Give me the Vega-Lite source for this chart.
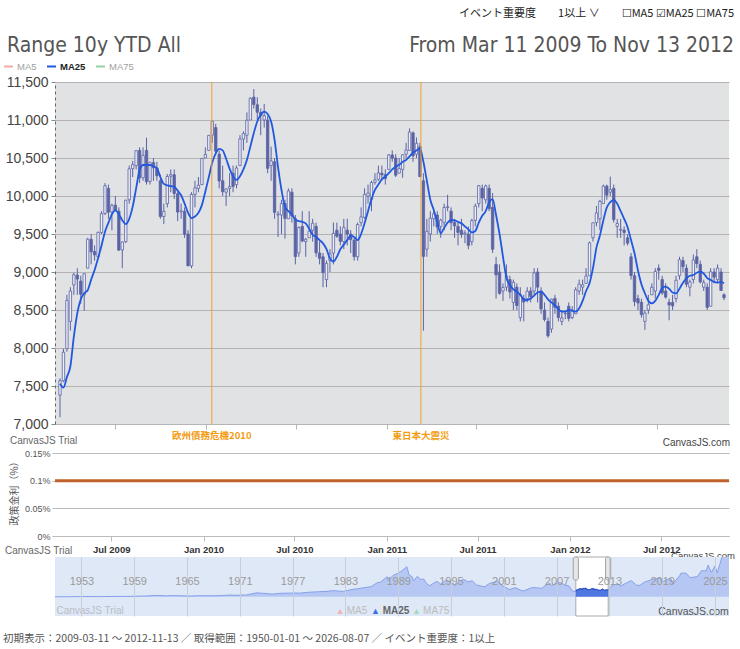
{
  "$schema": "https://vega.github.io/schema/vega-lite/v6.json",
  "padding": {"left": 3, "top": 8, "right": 2, "bottom": 0},
  "config": {
    "font": "Liberation Sans",
    "view": {"stroke": null},
    "axis": {"labelFont": "Liberation Sans", "titleFont": "Noto Sans CJK JP", "labelOverlap": false}
  },
  "datasets": {
    "weekly": [
      {"d":"2009-03-11","o":7380,"h":7600,"l":7090,"c":7570,"m":7530},
      {"d":"2009-03-18","o":7570,"h":7990,"l":7550,"c":7945,"m":7480},
      {"d":"2009-03-25","o":7990,"h":8700,"l":7950,"c":8626,"m":7620},
      {"d":"2009-04-01","o":8350,"h":8800,"l":8230,"c":8750,"m":7760},
      {"d":"2009-04-08","o":8830,"h":8990,"l":8700,"c":8964,"m":8150},
      {"d":"2009-04-15","o":8960,"h":9050,"l":8700,"c":8907,"m":8460},
      {"d":"2009-04-22","o":8880,"h":8950,"l":8580,"c":8707,"m":8640},
      {"d":"2009-04-29","o":8700,"h":8980,"l":8490,"c":8977,"m":8720},
      {"d":"2009-05-06","o":9050,"h":9450,"l":9050,"c":9432,"m":8760},
      {"d":"2009-05-13","o":9430,"h":9500,"l":9100,"c":9265,"m":8900},
      {"d":"2009-05-20","o":9270,"h":9350,"l":9150,"c":9225,"m":9026},
      {"d":"2009-05-27","o":9200,"h":9530,"l":9200,"c":9522,"m":9180},
      {"d":"2009-06-03","o":9520,"h":9800,"l":9500,"c":9768,"m":9350},
      {"d":"2009-06-10","o":9770,"h":10170,"l":9750,"c":10135,"m":9530},
      {"d":"2009-06-17","o":10100,"h":10150,"l":9700,"c":9786,"m":9650},
      {"d":"2009-06-24","o":9790,"h":9900,"l":9550,"c":9877,"m":9760},
      {"d":"2009-07-01","o":9880,"h":10000,"l":9800,"c":9816,"m":9810},
      {"d":"2009-07-08","o":9800,"h":9850,"l":9280,"c":9288,"m":9760},
      {"d":"2009-07-15","o":9290,"h":9400,"l":9050,"c":9395,"m":9680},
      {"d":"2009-07-22","o":9400,"h":9950,"l":9380,"c":9945,"m":9630},
      {"d":"2009-07-29","o":9950,"h":10400,"l":9900,"c":10357,"m":9700},
      {"d":"2009-08-05","o":10360,"h":10460,"l":10250,"c":10412,"m":9860},
      {"d":"2009-08-12","o":10400,"h":10600,"l":10350,"c":10597,"m":10100},
      {"d":"2009-08-19","o":10600,"h":10640,"l":10170,"c":10238,"m":10340},
      {"d":"2009-08-26","o":10240,"h":10640,"l":10200,"c":10534,"m":10408},
      {"d":"2009-09-02","o":10600,"h":10767,"l":10150,"c":10187,"m":10410},
      {"d":"2009-09-09","o":10190,"h":10450,"l":10150,"c":10444,"m":10408},
      {"d":"2009-09-16","o":10440,"h":10500,"l":10200,"c":10370,"m":10390},
      {"d":"2009-09-23","o":10370,"h":10450,"l":10200,"c":10265,"m":10364},
      {"d":"2009-09-30","o":10200,"h":10280,"l":9700,"c":9731,"m":10250},
      {"d":"2009-10-07","o":9730,"h":9900,"l":9630,"c":9799,"m":10160},
      {"d":"2009-10-14","o":9900,"h":10290,"l":9850,"c":10257,"m":10140},
      {"d":"2009-10-21","o":10260,"h":10350,"l":10050,"c":10282,"m":10130},
      {"d":"2009-10-28","o":10280,"h":10350,"l":9960,"c":10034,"m":10123},
      {"d":"2009-11-04","o":10030,"h":10050,"l":9670,"c":9789,"m":10070},
      {"d":"2009-11-11","o":9790,"h":9900,"l":9700,"c":9804,"m":10010},
      {"d":"2009-11-18","o":9800,"h":9850,"l":9450,"c":9497,"m":9900},
      {"d":"2009-11-25","o":9500,"h":9550,"l":9080,"c":9081,"m":9780},
      {"d":"2009-12-02","o":9080,"h":10050,"l":9050,"c":10022,"m":9710},
      {"d":"2009-12-09","o":10020,"h":10200,"l":9850,"c":10107,"m":9730},
      {"d":"2009-12-16","o":10100,"h":10250,"l":10050,"c":10142,"m":9780},
      {"d":"2009-12-23","o":10150,"h":10500,"l":10150,"c":10494,"m":9880},
      {"d":"2009-12-30","o":10500,"h":10640,"l":10500,"c":10546,"m":10060},
      {"d":"2010-01-06","o":10600,"h":10800,"l":10600,"c":10798,"m":10250},
      {"d":"2010-01-13","o":10800,"h":10990,"l":10700,"c":10982,"m":10440},
      {"d":"2010-01-20","o":10900,"h":10950,"l":10550,"c":10590,"m":10560},
      {"d":"2010-01-27","o":10550,"h":10600,"l":10100,"c":10198,"m":10620},
      {"d":"2010-02-03","o":10200,"h":10400,"l":10000,"c":10057,"m":10600},
      {"d":"2010-02-10","o":10050,"h":10100,"l":9870,"c":10092,"m":10490},
      {"d":"2010-02-17","o":10100,"h":10300,"l":10000,"c":10123,"m":10360},
      {"d":"2010-02-24","o":10300,"h":10400,"l":10050,"c":10126,"m":10260},
      {"d":"2010-03-03","o":10150,"h":10400,"l":10100,"c":10368,"m":10211},
      {"d":"2010-03-10","o":10400,"h":10800,"l":10400,"c":10751,"m":10260},
      {"d":"2010-03-17","o":10750,"h":10850,"l":10600,"c":10824,"m":10350},
      {"d":"2010-03-24","o":10800,"h":11100,"l":10700,"c":10996,"m":10474},
      {"d":"2010-03-31","o":11000,"h":11300,"l":11000,"c":11286,"m":10650},
      {"d":"2010-04-07","o":11300,"h":11408,"l":11150,"c":11204,"m":10830},
      {"d":"2010-04-14","o":11200,"h":11300,"l":11000,"c":11102,"m":10980},
      {"d":"2010-04-21","o":11100,"h":11150,"l":10800,"c":11057,"m":11070},
      {"d":"2010-04-28","o":11000,"h":11212,"l":10900,"c":11057,"m":11110},
      {"d":"2010-05-05","o":11000,"h":11050,"l":10300,"c":10364,"m":11080},
      {"d":"2010-05-12","o":10400,"h":10650,"l":10200,"c":10462,"m":10980},
      {"d":"2010-05-19","o":10450,"h":10500,"l":9700,"c":9784,"m":10740},
      {"d":"2010-05-26","o":9750,"h":9800,"l":9460,"c":9762,"m":10380},
      {"d":"2010-06-02","o":9750,"h":9950,"l":9500,"c":9901,"m":10079},
      {"d":"2010-06-09","o":9900,"h":9950,"l":9440,"c":9705,"m":9860},
      {"d":"2010-06-16","o":9700,"h":10100,"l":9700,"c":10067,"m":9800},
      {"d":"2010-06-23","o":10050,"h":10100,"l":9650,"c":9737,"m":9760},
      {"d":"2010-06-30","o":9700,"h":9750,"l":9100,"c":9203,"m":9690},
      {"d":"2010-07-07","o":9250,"h":9600,"l":9200,"c":9585,"m":9670},
      {"d":"2010-07-14","o":9600,"h":9800,"l":9390,"c":9408,"m":9660},
      {"d":"2010-07-21","o":9400,"h":9450,"l":9200,"c":9431,"m":9640},
      {"d":"2010-07-28","o":9450,"h":9800,"l":9450,"c":9537,"m":9570},
      {"d":"2010-08-04","o":9550,"h":9700,"l":9400,"c":9642,"m":9490},
      {"d":"2010-08-11","o":9600,"h":9650,"l":9200,"c":9253,"m":9460},
      {"d":"2010-08-18","o":9250,"h":9400,"l":9100,"c":9179,"m":9420},
      {"d":"2010-08-25","o":9200,"h":9250,"l":8800,"c":8991,"m":9377},
      {"d":"2010-09-01","o":8900,"h":9150,"l":8800,"c":9114,"m":9300},
      {"d":"2010-09-08","o":9150,"h":9300,"l":9000,"c":9239,"m":9180},
      {"d":"2010-09-15","o":9250,"h":9650,"l":9100,"c":9509,"m":9136},
      {"d":"2010-09-22","o":9550,"h":9650,"l":9450,"c":9471,"m":9200},
      {"d":"2010-09-29","o":9500,"h":9600,"l":9350,"c":9404,"m":9300},
      {"d":"2010-10-06","o":9400,"h":9700,"l":9300,"c":9588,"m":9360},
      {"d":"2010-10-13","o":9550,"h":9700,"l":9350,"c":9500,"m":9420},
      {"d":"2010-10-20","o":9500,"h":9550,"l":9250,"c":9426,"m":9480},
      {"d":"2010-10-27","o":9420,"h":9450,"l":9150,"c":9202,"m":9460},
      {"d":"2010-11-03","o":9200,"h":9650,"l":9150,"c":9625,"m":9421},
      {"d":"2010-11-10","o":9650,"h":9850,"l":9600,"c":9725,"m":9500},
      {"d":"2010-11-17","o":9720,"h":10100,"l":9700,"c":10022,"m":9640},
      {"d":"2010-11-24","o":10000,"h":10150,"l":9900,"c":10039,"m":9800},
      {"d":"2010-12-01","o":9950,"h":10200,"l":9800,"c":10178,"m":9960},
      {"d":"2010-12-08","o":10180,"h":10300,"l":10150,"c":10212,"m":10080},
      {"d":"2010-12-15","o":10220,"h":10400,"l":10200,"c":10303,"m":10150},
      {"d":"2010-12-22","o":10300,"h":10400,"l":10200,"c":10279,"m":10220},
      {"d":"2010-12-29","o":10280,"h":10350,"l":10150,"c":10229,"m":10255},
      {"d":"2011-01-05","o":10350,"h":10550,"l":10350,"c":10541,"m":10300},
      {"d":"2011-01-12","o":10540,"h":10600,"l":10450,"c":10499,"m":10350},
      {"d":"2011-01-19","o":10500,"h":10550,"l":10250,"c":10274,"m":10386},
      {"d":"2011-01-26","o":10300,"h":10500,"l":10300,"c":10360,"m":10410},
      {"d":"2011-02-02","o":10350,"h":10550,"l":10240,"c":10543,"m":10450},
      {"d":"2011-02-09","o":10550,"h":10700,"l":10500,"c":10605,"m":10474},
      {"d":"2011-02-16","o":10600,"h":10890,"l":10600,"c":10842,"m":10520},
      {"d":"2011-02-23","o":10830,"h":10850,"l":10450,"c":10527,"m":10570},
      {"d":"2011-03-02","o":10550,"h":10770,"l":10500,"c":10693,"m":10600},
      {"d":"2011-03-09","o":10650,"h":10700,"l":10250,"c":10254,"m":10625},
      {"d":"2011-03-16","o":10200,"h":10300,"l":8227,"c":9206,"m":10450},
      {"d":"2011-03-23","o":9300,"h":9700,"l":9200,"c":9536,"m":10200},
      {"d":"2011-03-30","o":9500,"h":9800,"l":9400,"c":9708,"m":9950},
      {"d":"2011-04-06","o":9700,"h":9800,"l":9600,"c":9768,"m":9816},
      {"d":"2011-04-13","o":9750,"h":9800,"l":9500,"c":9591,"m":9650},
      {"d":"2011-04-20","o":9600,"h":9700,"l":9450,"c":9682,"m":9509},
      {"d":"2011-04-27","o":9650,"h":9900,"l":9550,"c":9849,"m":9580},
      {"d":"2011-05-04","o":9850,"h":10017,"l":9800,"c":9859,"m":9650},
      {"d":"2011-05-11","o":9800,"h":9850,"l":9550,"c":9648,"m":9684},
      {"d":"2011-05-18","o":9650,"h":9700,"l":9450,"c":9607,"m":9680},
      {"d":"2011-05-25","o":9600,"h":9650,"l":9350,"c":9521,"m":9660},
      {"d":"2011-06-01","o":9550,"h":9700,"l":9450,"c":9492,"m":9640},
      {"d":"2011-06-08","o":9500,"h":9550,"l":9380,"c":9514,"m":9600},
      {"d":"2011-06-15","o":9500,"h":9600,"l":9300,"c":9351,"m":9560},
      {"d":"2011-06-22","o":9400,"h":9700,"l":9350,"c":9678,"m":9520},
      {"d":"2011-06-29","o":9680,"h":9900,"l":9600,"c":9868,"m":9540},
      {"d":"2011-07-06","o":9900,"h":10140,"l":9850,"c":10137,"m":9650},
      {"d":"2011-07-13","o":10100,"h":10150,"l":9800,"c":9974,"m":9740},
      {"d":"2011-07-20","o":9950,"h":10150,"l":9900,"c":10132,"m":9800},
      {"d":"2011-07-27","o":10100,"h":10150,"l":9800,"c":9833,"m":9920},
      {"d":"2011-08-03","o":9850,"h":10040,"l":9250,"c":9299,"m":9960},
      {"d":"2011-08-10","o":9100,"h":9200,"l":8650,"c":8963,"m":9750},
      {"d":"2011-08-17","o":9000,"h":9100,"l":8700,"c":8719,"m":9500},
      {"d":"2011-08-24","o":8750,"h":8850,"l":8620,"c":8797,"m":9200},
      {"d":"2011-08-31","o":8800,"h":9100,"l":8750,"c":8950,"m":8920},
      {"d":"2011-09-07","o":8900,"h":8950,"l":8650,"c":8737,"m":8830},
      {"d":"2011-09-14","o":8600,"h":8900,"l":8500,"c":8864,"m":8770},
      {"d":"2011-09-21","o":8800,"h":8850,"l":8500,"c":8560,"m":8740},
      {"d":"2011-09-28","o":8400,"h":8800,"l":8350,"c":8700,"m":8700},
      {"d":"2011-10-05","o":8650,"h":8700,"l":8350,"c":8605,"m":8640},
      {"d":"2011-10-12","o":8650,"h":8800,"l":8600,"c":8747,"m":8630},
      {"d":"2011-10-19","o":8750,"h":8800,"l":8600,"c":8678,"m":8650},
      {"d":"2011-10-26","o":8750,"h":9050,"l":8700,"c":8988,"m":8690},
      {"d":"2011-11-02","o":9000,"h":9050,"l":8600,"c":8801,"m":8730},
      {"d":"2011-11-09","o":8750,"h":8800,"l":8450,"c":8514,"m":8741},
      {"d":"2011-11-16","o":8500,"h":8600,"l":8350,"c":8374,"m":8700},
      {"d":"2011-11-23","o":8350,"h":8400,"l":8135,"c":8160,"m":8640},
      {"d":"2011-11-30","o":8250,"h":8650,"l":8200,"c":8643,"m":8600},
      {"d":"2011-12-07","o":8650,"h":8700,"l":8450,"c":8536,"m":8560},
      {"d":"2011-12-14","o":8550,"h":8600,"l":8350,"c":8401,"m":8510},
      {"d":"2011-12-21","o":8350,"h":8500,"l":8300,"c":8395,"m":8478},
      {"d":"2011-12-28","o":8450,"h":8480,"l":8380,"c":8455,"m":8480},
      {"d":"2012-01-04","o":8550,"h":8600,"l":8350,"c":8390,"m":8500},
      {"d":"2012-01-11","o":8400,"h":8550,"l":8380,"c":8500,"m":8490},
      {"d":"2012-01-18","o":8450,"h":8800,"l":8450,"c":8766,"m":8480},
      {"d":"2012-01-25","o":8750,"h":8900,"l":8700,"c":8841,"m":8520},
      {"d":"2012-02-01","o":8800,"h":8900,"l":8700,"c":8831,"m":8620},
      {"d":"2012-02-08","o":8850,"h":9050,"l":8850,"c":8947,"m":8750},
      {"d":"2012-02-15","o":8950,"h":9400,"l":8950,"c":9384,"m":8851},
      {"d":"2012-02-22","o":9450,"h":9650,"l":9400,"c":9647,"m":9050},
      {"d":"2012-02-29","o":9650,"h":9870,"l":9600,"c":9777,"m":9320},
      {"d":"2012-03-07","o":9700,"h":9950,"l":9550,"c":9929,"m":9480},
      {"d":"2012-03-14","o":9900,"h":10150,"l":9900,"c":10130,"m":9680},
      {"d":"2012-03-21","o":10130,"h":10150,"l":9950,"c":10012,"m":9850},
      {"d":"2012-03-28","o":10050,"h":10255,"l":10000,"c":10084,"m":9920},
      {"d":"2012-04-04","o":10100,"h":10150,"l":9650,"c":9689,"m":9950},
      {"d":"2012-04-11","o":9600,"h":9700,"l":9450,"c":9638,"m":9900},
      {"d":"2012-04-18","o":9550,"h":9700,"l":9450,"c":9562,"m":9800},
      {"d":"2012-04-25","o":9550,"h":9600,"l":9350,"c":9520,"m":9700},
      {"d":"2012-05-02","o":9450,"h":9500,"l":9350,"c":9380,"m":9590},
      {"d":"2012-05-09","o":9200,"h":9250,"l":8900,"c":8953,"m":9420},
      {"d":"2012-05-16","o":8950,"h":9000,"l":8550,"c":8611,"m":9246},
      {"d":"2012-05-23","o":8650,"h":8700,"l":8500,"c":8593,"m":9020},
      {"d":"2012-05-30","o":8600,"h":8650,"l":8400,"c":8440,"m":8840},
      {"d":"2012-06-06","o":8350,"h":8500,"l":8238,"c":8459,"m":8720},
      {"d":"2012-06-13","o":8500,"h":8700,"l":8450,"c":8569,"m":8620},
      {"d":"2012-06-20","o":8700,"h":8850,"l":8700,"c":8798,"m":8588},
      {"d":"2012-06-27","o":8750,"h":9050,"l":8650,"c":9007,"m":8620},
      {"d":"2012-07-04","o":9050,"h":9100,"l":8900,"c":9021,"m":8700},
      {"d":"2012-07-11","o":8900,"h":8950,"l":8700,"c":8724,"m":8790},
      {"d":"2012-07-18","o":8750,"h":8850,"l":8650,"c":8670,"m":8807},
      {"d":"2012-07-25","o":8600,"h":8650,"l":8365,"c":8567,"m":8780},
      {"d":"2012-08-01","o":8600,"h":8700,"l":8500,"c":8555,"m":8730},
      {"d":"2012-08-08","o":8650,"h":8950,"l":8600,"c":8891,"m":8719},
      {"d":"2012-08-15","o":8950,"h":9200,"l":8900,"c":9162,"m":8780},
      {"d":"2012-08-22","o":9150,"h":9200,"l":9000,"c":9070,"m":8860},
      {"d":"2012-08-29","o":9050,"h":9100,"l":8800,"c":8839,"m":8917},
      {"d":"2012-09-05","o":8800,"h":8900,"l":8680,"c":8871,"m":8950},
      {"d":"2012-09-12","o":8900,"h":9230,"l":8850,"c":9159,"m":8960},
      {"d":"2012-09-19","o":9200,"h":9300,"l":9050,"c":9110,"m":8990},
      {"d":"2012-09-26","o":9100,"h":9150,"l":8850,"c":8870,"m":9004},
      {"d":"2012-10-03","o":8800,"h":8900,"l":8750,"c":8863,"m":8980},
      {"d":"2012-10-10","o":8800,"h":8850,"l":8500,"c":8534,"m":8920},
      {"d":"2012-10-17","o":8550,"h":9050,"l":8550,"c":9002,"m":8895},
      {"d":"2012-10-24","o":9000,"h":9050,"l":8850,"c":8933,"m":8870},
      {"d":"2012-10-31","o":8900,"h":9100,"l":8850,"c":9051,"m":8860},
      {"d":"2012-11-07","o":9000,"h":9050,"l":8750,"c":8757,"m":8870},
      {"d":"2012-11-13","o":8700,"h":8720,"l":8630,"c":8662,"m":8850}
    ],
    "events": [
      {"d": "2010-01-12", "name": "欧州債務危機2010"},
      {"d": "2011-03-11", "name": "東日本大震災"}
    ],
    "rate": [
      {"d": "2009-03-11", "r": 0.1},
      {"d": "2012-11-13", "r": 0.1}
    ],
    "nikkei": [
      {"d":"1950-01-01","v":100},{"d":"1951-06-01","v":150},{"d":"1952-12-01","v":360},
      {"d":"1953-03-01","v":470},{"d":"1954-11-01","v":320},{"d":"1956-06-01","v":480},
      {"d":"1957-06-01","v":530},{"d":"1958-06-01","v":600},{"d":"1959-06-01","v":850},
      {"d":"1960-06-01","v":1150},{"d":"1961-07-01","v":1800},{"d":"1962-10-01","v":1250},
      {"d":"1963-04-01","v":1600},{"d":"1964-06-01","v":1300},{"d":"1965-07-01","v":1050},
      {"d":"1966-06-01","v":1500},{"d":"1967-12-01","v":1300},{"d":"1968-12-01","v":1700},
      {"d":"1969-12-01","v":2350},{"d":"1970-06-01","v":1950},{"d":"1971-06-01","v":2500},
      {"d":"1971-09-01","v":2200},{"d":"1972-12-01","v":5200},{"d":"1973-06-01","v":4800},
      {"d":"1974-10-01","v":3500},{"d":"1975-06-01","v":4500},{"d":"1976-12-01","v":4900},
      {"d":"1977-12-01","v":4900},{"d":"1978-12-01","v":6000},{"d":"1979-12-01","v":6550},
      {"d":"1980-12-01","v":7100},{"d":"1981-08-01","v":8000},{"d":"1982-10-01","v":7000},
      {"d":"1983-12-01","v":9900},{"d":"1984-06-01","v":10300},{"d":"1984-12-01","v":11500},
      {"d":"1985-12-01","v":13100},{"d":"1986-08-01","v":18000},{"d":"1987-01-01","v":19000},
      {"d":"1987-10-01","v":26000},{"d":"1987-11-15","v":21000},{"d":"1988-06-01","v":27700},
      {"d":"1988-12-01","v":30100},{"d":"1989-06-01","v":33500},{"d":"1989-12-29","v":38900},
      {"d":"1990-04-01","v":28000},{"d":"1990-08-01","v":26000},{"d":"1990-10-01","v":20500},
      {"d":"1991-03-01","v":26400},{"d":"1991-08-01","v":22500},{"d":"1991-12-01","v":22900},
      {"d":"1992-04-01","v":17000},{"d":"1992-08-01","v":14300},{"d":"1992-12-01","v":16900},
      {"d":"1993-06-01","v":20000},{"d":"1993-11-01","v":16500},{"d":"1994-06-01","v":21500},
      {"d":"1994-12-01","v":19700},{"d":"1995-07-01","v":14500},{"d":"1995-12-01","v":19900},
      {"d":"1996-06-01","v":22600},{"d":"1996-12-01","v":19400},{"d":"1997-06-01","v":20600},
      {"d":"1997-12-01","v":15300},{"d":"1998-10-01","v":13000},{"d":"1998-12-01","v":13800},
      {"d":"1999-06-01","v":17500},{"d":"1999-12-01","v":18900},{"d":"2000-04-01","v":20800},
      {"d":"2000-12-01","v":13800},{"d":"2001-09-01","v":9500},{"d":"2002-05-01","v":11900},
      {"d":"2002-12-01","v":8600},{"d":"2003-04-01","v":7600},{"d":"2003-12-01","v":10700},
      {"d":"2004-04-01","v":12000},{"d":"2005-05-01","v":11100},{"d":"2005-12-01","v":16100},
      {"d":"2006-04-01","v":17500},{"d":"2006-06-01","v":14500},{"d":"2007-02-01","v":18000},
      {"d":"2007-07-01","v":18200},{"d":"2007-12-01","v":15300},{"d":"2008-06-01","v":14000},
      {"d":"2008-10-27","v":7200},{"d":"2009-03-10","v":7100},{"d":"2009-08-31","v":10500},
      {"d":"2010-04-05","v":11300},{"d":"2010-08-31","v":8800},{"d":"2011-02-17","v":10800},
      {"d":"2011-11-25","v":8200},{"d":"2012-03-27","v":10200},{"d":"2012-06-04","v":8300},
      {"d":"2012-11-13","v":8660},{"d":"2013-05-22","v":15600},{"d":"2013-12-30","v":16300},
      {"d":"2014-04-11","v":14000},{"d":"2014-12-08","v":17900},{"d":"2015-06-24","v":20900},
      {"d":"2016-02-12","v":14900},{"d":"2016-06-24","v":14900},{"d":"2016-12-30","v":19100},
      {"d":"2017-12-29","v":22800},{"d":"2018-10-02","v":24300},{"d":"2018-12-25","v":19200},
      {"d":"2019-12-17","v":24100},{"d":"2020-03-19","v":16600},{"d":"2020-12-30","v":27400},
      {"d":"2021-02-16","v":30500},{"d":"2021-09-14","v":30700},{"d":"2022-03-09","v":24700},
      {"d":"2022-12-30","v":26100},{"d":"2023-06-19","v":33700},{"d":"2023-12-29","v":33500},
      {"d":"2024-03-22","v":40900},{"d":"2024-08-05","v":31500},{"d":"2024-12-30","v":39900},
      {"d":"2025-04-07","v":31100},{"d":"2025-10-31","v":52400},{"d":"2026-08-07","v":54000}
    ]
  },
  "vconcat": [
    {
      "hconcat": [
        {
          "width": 330, "height": 1,
          "data": {"values": []},
          "mark": "text",
          "title": {
            "text": " ", "subtitle": "Range   10y  YTD  All",
            "anchor": "start", "dx": -48, "offset": 5,
            "fontSize": 11, "subtitleFont": "Liberation Sans Narrow, DejaVu Sans Condensed, sans-serif",
            "subtitleFontSize": 21, "subtitleColor": "#555", "subtitlePadding": 16
          }
        },
        {
          "width": 330, "height": 1,
          "data": {"values": []},
          "mark": "text",
          "title": {
            "text": "イベント重要度　　1以上 ∨　　☐MA5 ☑MA25 ☐MA75",
            "subtitle": "From  Mar 11 2009   To  Nov 13 2012",
            "anchor": "end", "dx": 5, "offset": 5,
            "font": "Noto Sans CJK JP", "fontSize": 11, "fontWeight": "normal", "color": "#222",
            "subtitleFont": "Liberation Sans Narrow, DejaVu Sans Condensed, sans-serif",
            "subtitleFontSize": 21, "subtitleColor": "#555", "subtitlePadding": 16
          }
        }
      ],
      "spacing": 14,
      "bounds": "flush"
    },
    {
      "width": 674,
      "height": 342,
      "view": {"fill": "#e1e2e4", "stroke": null},
      "layer": [
        {
          "data": {"name": "weekly"},
          "mark": {"type": "rule", "color": "#5b63a5", "strokeWidth": 1},
          "encoding": {
            "x": {
              "field": "d", "type": "temporal", "title": null,
              "scale": {"type": "utc", "domain": ["2009-03-11", "2012-11-13"]},
              "axis": {
                "labels": false, "ticks": true, "tickSize": 5, "tickColor": "#b5b5b5",
                "domainColor": "#b5b5b5", "grid": false, "tickCount": 12,
                "values": [
                  {"year": 2009, "month": 7, "date": 1, "utc": true},
                  {"year": 2010, "month": 1, "date": 1, "utc": true},
                  {"year": 2010, "month": 7, "date": 1, "utc": true},
                  {"year": 2011, "month": 1, "date": 1, "utc": true},
                  {"year": 2011, "month": 7, "date": 1, "utc": true},
                  {"year": 2012, "month": 1, "date": 1, "utc": true},
                  {"year": 2012, "month": 7, "date": 1, "utc": true}
                ]
              }
            },
            "y": {
              "field": "l", "type": "quantitative", "title": null,
              "scale": {"domain": [7000, 11500], "nice": false, "zero": false},
              "axis": {
                "values": [7000, 7500, 8000, 8500, 9000, 9500, 10000, 10500, 11000, 11500],
                "tickCount": 12, "format": ",d", "labelFontSize": 14, "labelColor": "#444", "labelPadding": 3,
                "tickSize": 4, "tickColor": "#888",
                "domainDash": [3, 3], "domainColor": "#666",
                "grid": true, "gridColor": "#b3b3b3",
                "minExtent": 48, "maxExtent": 48
              }
            },
            "y2": {"field": "h"}
          }
        },
        {
          "data": {"name": "weekly"},
          "mark": {"type": "bar", "width": 2.4, "stroke": "#5b63a5", "strokeWidth": 0.8},
          "encoding": {
            "x": {"field": "d", "type": "temporal", "title": null},
            "y": {
              "field": "o", "type": "quantitative", "title": null,
              "axis": {
                "values": [7000, 7500, 8000, 8500, 9000, 9500, 10000, 10500, 11000, 11500],
                "tickCount": 12, "format": ",d", "labelFontSize": 14, "labelColor": "#444", "labelPadding": 3,
                "tickSize": 4, "tickColor": "#888",
                "domainDash": [3, 3], "domainColor": "#666",
                "grid": true, "gridColor": "#b3b3b3",
                "minExtent": 48, "maxExtent": 48
              }
            },
            "y2": {"field": "c"},
            "fill": {
              "condition": {"test": "datum.c >= datum.o", "value": "#eceef6"},
              "value": "#5b63a5"
            }
          }
        },
        {
          "data": {"name": "weekly"},
          "mark": {"type": "line", "interpolate": "monotone", "strokeWidth": 1.8},
          "encoding": {
            "x": {"field": "d", "type": "temporal", "title": null},
            "y": {
              "field": "m", "type": "quantitative", "title": null,
              "axis": {
                "values": [7000, 7500, 8000, 8500, 9000, 9500, 10000, 10500, 11000, 11500],
                "tickCount": 12, "format": ",d", "labelFontSize": 14, "labelColor": "#444", "labelPadding": 3,
                "tickSize": 4, "tickColor": "#888",
                "domainDash": [3, 3], "domainColor": "#666",
                "grid": true, "gridColor": "#b3b3b3",
                "minExtent": 48, "maxExtent": 48
              }
            },
            "stroke": {
              "datum": "MA25", "type": "nominal",
              "scale": {"domain": ["MA5", "MA25", "MA75"], "range": ["#f3aaaa", "#2158e0", "#8fd2a8"]},
              "legend": {
                "orient": "none", "legendX": -52, "legendY": 0, "direction": "horizontal",
                "title": null, "symbolType": "stroke", "symbolStrokeWidth": 2, "symbolSize": 80,
                "labelFontSize": 9.5, "labelOffset": 3, "columnPadding": 6,
                "encode": {
                  "labels": {
                    "update": {
                      "fill": {"signal": "datum.value === 'MA25' ? '#222' : '#a0a0a0'"},
                      "fontWeight": {"signal": "datum.value === 'MA25' ? 'bold' : 'normal'"}
                    }
                  }
                }
              }
            }
          }
        },
        {
          "data": {"name": "events"},
          "mark": {"type": "rule", "color": "#f0a030", "strokeWidth": 1},
          "encoding": {
            "x": {"field": "d", "type": "temporal", "title": null}
          }
        },
        {
          "data": {"name": "events"},
          "mark": {"type": "text", "color": "#f39c12", "font": "Noto Sans CJK JP", "fontSize": 9.5, "fontWeight": "bold", "dy": 12},
          "encoding": {
            "x": {"field": "d", "type": "temporal", "title": null},
            "y": {"value": "height"},
            "text": {"field": "name"}
          }
        },
        {
          "data": {"values": [{}]},
          "mark": {"type": "text", "text": "CanvasJS Trial", "align": "left", "fontSize": 10, "color": "#666", "dx": -50, "dy": 17},
          "encoding": {
            "x": {"datum": {"year": 2009, "month": 3, "date": 11, "utc": true}, "type": "temporal"},
            "y": {"value": "height"}
          }
        },
        {
          "data": {"values": [{}]},
          "mark": {"type": "text", "text": "CanvasJS.com", "align": "right", "fontSize": 10, "color": "#444", "dx": 6, "dy": 19},
          "encoding": {
            "x": {"datum": {"year": 2012, "month": 11, "date": 13, "utc": true}, "type": "temporal"},
            "y": {"value": "height"}
          }
        }
      ]
    },
    {
      "width": 674,
      "height": 91,
      "layer": [
        {
          "data": {"name": "rate"},
          "mark": {"type": "line", "color": "#c0602a", "strokeWidth": 3},
          "encoding": {
            "x": {
              "field": "d", "type": "temporal", "title": null,
              "scale": {"type": "utc", "domain": ["2009-03-11", "2012-11-13"]},
              "axis": {
                "values": [
                  {"year": 2009, "month": 7, "date": 1, "utc": true},
                  {"year": 2010, "month": 1, "date": 1, "utc": true},
                  {"year": 2010, "month": 7, "date": 1, "utc": true},
                  {"year": 2011, "month": 1, "date": 1, "utc": true},
                  {"year": 2011, "month": 7, "date": 1, "utc": true},
                  {"year": 2012, "month": 1, "date": 1, "utc": true},
                  {"year": 2012, "month": 7, "date": 1, "utc": true}
                ],
                "tickCount": 12,
                "labelExpr": "utcFormat(datum.value, '%b %Y')",
                "labelFontSize": 9.5, "labelFontWeight": "bold", "labelColor": "#333", "labelPadding": 3,
                "tickSize": 5, "tickColor": "#bbb", "domainColor": "#bbb", "grid": false
              }
            },
            "y": {
              "field": "r", "type": "quantitative",
              "scale": {"domain": [0, 0.1645], "nice": false},
              "axis": {
                "values": [0, 0.05, 0.1, 0.15], "tickCount": 6, "labelExpr": "datum.value + '%'",
                "title": "政策金利（%）", "titleFontSize": 10, "titleFontWeight": "normal", "titleColor": "#555", "titlePadding": 6,
                "grid": true, "gridColor": "#bbb", "domain": false, "tickSize": 3, "tickColor": "#bbb",
                "labelFontSize": 9, "labelColor": "#555", "minExtent": 30, "maxExtent": 30
              }
            }
          }
        },
        {
          "data": {"values": [{}]},
          "mark": {"type": "text", "text": "CanvasJS Trial", "align": "left", "fontSize": 10, "color": "#666", "dx": -50, "dy": 15},
          "encoding": {
            "x": {"datum": {"year": 2009, "month": 3, "date": 11, "utc": true}, "type": "temporal"},
            "y": {"value": "height"}
          }
        },
        {
          "data": {"values": [{}]},
          "mark": {"type": "text", "text": "CanvasJS.com", "align": "right", "fontSize": 9.5, "color": "#444", "dx": 6, "dy": 20},
          "encoding": {
            "x": {"datum": {"year": 2012, "month": 11, "date": 13, "utc": true}, "type": "temporal"},
            "y": {"value": "height"}
          }
        }
      ]
    },
    {
      "width": 674,
      "height": 59,
      "view": {"fill": "#dfe8f6", "stroke": null},
      "title": {
        "text": "初期表示：2009-03-11 ～ 2012-11-13 ／ 取得範囲：1950-01-01 ～ 2026-08-07 ／ イベント重要度：1以上",
        "orient": "bottom", "anchor": "start", "dx": -52, "offset": 16,
        "font": "Noto Sans CJK JP", "fontSize": 10.5, "fontWeight": "normal", "color": "#555"
      },
      "layer": [
        {
          "data": {"values": [{}]},
          "mark": {"type": "rect", "fill": "#ffffff", "stroke": "#aaaaaa", "strokeWidth": 1},
          "encoding": {
            "x": {
              "datum": {"year": 2009, "month": 3, "date": 11, "utc": true}, "type": "temporal", "title": null,
              "scale": {"type": "utc", "domain": ["1950-01-01", "2026-08-07"]},
              "axis": {
                "values": [
                  {"year": 1953, "utc": true}, {"year": 1959, "utc": true}, {"year": 1965, "utc": true},
                  {"year": 1971, "utc": true}, {"year": 1977, "utc": true}, {"year": 1983, "utc": true},
                  {"year": 1989, "utc": true}, {"year": 1995, "utc": true}, {"year": 2001, "utc": true},
                  {"year": 2007, "utc": true}, {"year": 2013, "utc": true}, {"year": 2019, "utc": true},
                  {"year": 2025, "utc": true}
                ],
                "tickCount": 20,
                "labelExpr": "utcFormat(datum.value, '%Y')",
                "labelFontSize": 11, "labelColor": "#9a9a9a", "labelPadding": -41,
                "tickSize": 0, "domain": false, "grid": true, "gridColor": "#c9cdd6", "zindex": 1
              }
            },
            "x2": {"datum": {"year": 2012, "month": 11, "date": 13, "utc": true}}
          }
        },
        {
          "data": {"name": "nikkei"},
          "mark": {"type": "area", "color": "#a3b9f1", "clip": true, "line": {"color": "#86a1ec", "strokeWidth": 1}},
          "encoding": {
            "x": {"field": "d", "type": "temporal", "title": null},
            "y": {
              "field": "v", "type": "quantitative", "axis": null,
              "scale": {"domain": [-24700, 51400], "nice": false, "zero": false}
            },
            "y2": {"datum": 0}
          }
        },
        {
          "data": {"name": "weekly"},
          "mark": {"type": "area", "color": "#2252d8", "line": {"color": "#1a3fc0", "strokeWidth": 1}},
          "encoding": {
            "x": {"field": "d", "type": "temporal", "title": null},
            "y": {"field": "c", "type": "quantitative", "axis": null},
            "y2": {"datum": 0}
          }
        },
        {
          "data": {"values": [{}]},
          "mark": {"type": "rect", "fill": "#e6e6e6", "stroke": "#a0a0a0", "strokeWidth": 1, "cornerRadius": 2},
          "encoding": {
            "x": {"datum": {"year": 2008, "month": 11, "date": 25, "utc": true}, "type": "temporal"},
            "x2": {"datum": {"year": 2009, "month": 6, "date": 25, "utc": true}},
            "y": {"datum": 51400, "axis": null},
            "y2": {"datum": 21700}
          }
        },
        {
          "data": {"values": [{}]},
          "mark": {"type": "rect", "fill": "#e6e6e6", "stroke": "#a0a0a0", "strokeWidth": 1, "cornerRadius": 2},
          "encoding": {
            "x": {"datum": {"year": 2012, "month": 7, "date": 28, "utc": true}, "type": "temporal"},
            "x2": {"datum": {"year": 2013, "month": 2, "date": 28, "utc": true}},
            "y": {"datum": 51400, "axis": null},
            "y2": {"datum": 21700}
          }
        },
        {
          "data": {"values": [{}]},
          "mark": {"type": "text", "text": "CanvasJS Trial", "align": "left", "fontSize": 10, "color": "#b8bcc6"},
          "encoding": {
            "x": {"datum": {"year": 1950, "month": 3, "utc": true}, "type": "temporal"},
            "y": {"datum": -18500, "axis": null}
          }
        },
        {
          "data": {"values": [{}]},
          "mark": {"type": "text", "text": "▲", "fontSize": 9, "color": "#f2b5b5"},
          "encoding": {
            "x": {"datum": {"year": 1982, "month": 6, "utc": true}, "type": "temporal"},
            "y": {"datum": -18500, "axis": null}
          }
        },
        {
          "data": {"values": [{}]},
          "mark": {"type": "text", "text": "MA5", "align": "left", "fontSize": 10, "color": "#bbbbbb"},
          "encoding": {
            "x": {"datum": {"year": 1983, "month": 3, "utc": true}, "type": "temporal"},
            "y": {"datum": -18500, "axis": null}
          }
        },
        {
          "data": {"values": [{}]},
          "mark": {"type": "text", "text": "▲", "fontSize": 9, "color": "#3b6ee6"},
          "encoding": {
            "x": {"datum": {"year": 1986, "month": 6, "utc": true}, "type": "temporal"},
            "y": {"datum": -18500, "axis": null}
          }
        },
        {
          "data": {"values": [{}]},
          "mark": {"type": "text", "text": "MA25", "align": "left", "fontSize": 10, "fontWeight": "bold", "color": "#666666"},
          "encoding": {
            "x": {"datum": {"year": 1987, "month": 4, "utc": true}, "type": "temporal"},
            "y": {"datum": -18500, "axis": null}
          }
        },
        {
          "data": {"values": [{}]},
          "mark": {"type": "text", "text": "▲", "fontSize": 9, "color": "#a6dcbc"},
          "encoding": {
            "x": {"datum": {"year": 1991, "month": 2, "utc": true}, "type": "temporal"},
            "y": {"datum": -18500, "axis": null}
          }
        },
        {
          "data": {"values": [{}]},
          "mark": {"type": "text", "text": "MA75", "align": "left", "fontSize": 10, "color": "#bbbbbb"},
          "encoding": {
            "x": {"datum": {"year": 1991, "month": 11, "utc": true}, "type": "temporal"},
            "y": {"datum": -18500, "axis": null}
          }
        },
        {
          "data": {"values": [{}]},
          "mark": {"type": "text", "text": "CanvasJS.com", "align": "right", "fontSize": 10.5, "color": "#555"},
          "encoding": {
            "x": {"datum": {"year": 2026, "month": 8, "date": 1, "utc": true}, "type": "temporal"},
            "y": {"datum": -20000, "axis": null}
          }
        }
      ]
    }
  ],
  "spacing": 21,
  "bounds": "flush"
}
